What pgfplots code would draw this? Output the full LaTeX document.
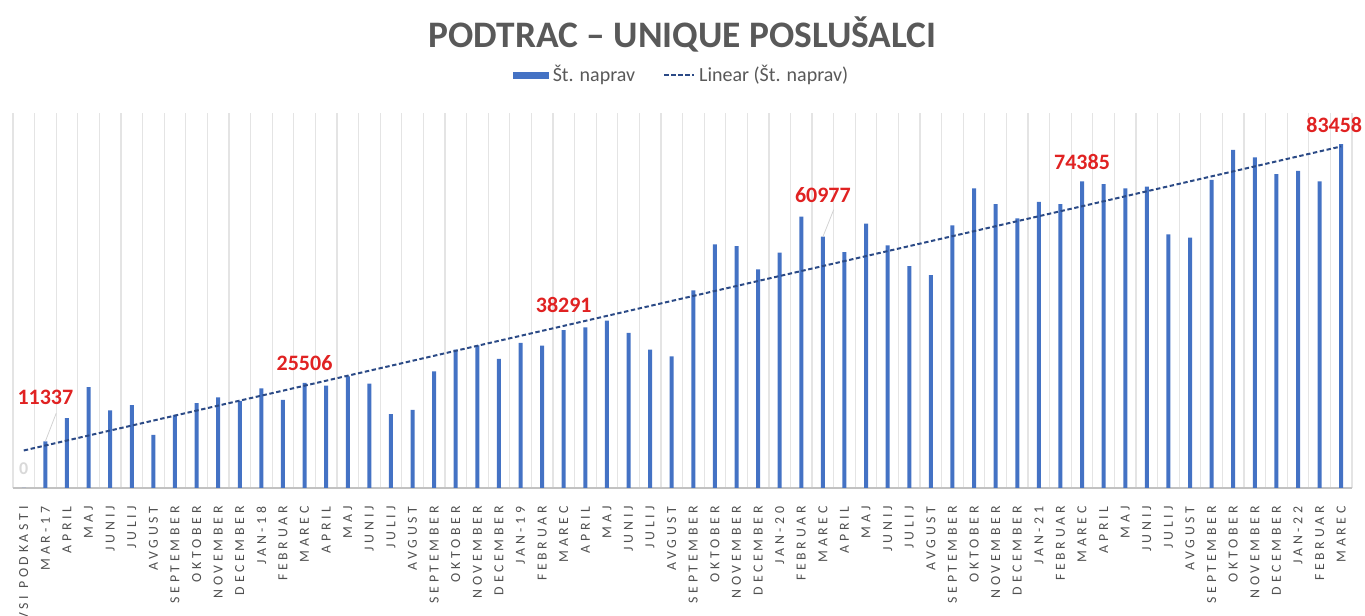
\documentclass[border=0pt]{standalone}
\usepackage{fontspec}
\setmainfont{Carlito}
\newfontfamily\spaced[LetterSpace=27]{Carlito}
\usepackage{pgfplots}
\pgfplotsset{compat=1.18}
\usepackage{pgfplotstable}

\definecolor{barblue}{HTML}{4472C4}
\definecolor{trendblue}{HTML}{2B4A86}
\definecolor{txtgray}{HTML}{595959}
\definecolor{gridgray}{HTML}{E4E4E4}
\definecolor{lblred}{HTML}{E02222}

\tikzset{trendline/.style={trendblue, line width=1bp, dash pattern=on 2.2bp off 1.3bp}}

% Podtrac unique listeners, monthly
\pgfplotstableread{
x  y
0  0
1  11337
2  16960
3  24500
4  18810
5  20120
6  12900
7  17760
8  20600
9  21970
10 21170
11 24160
12 21410
13 25506
14 24820
15 27080
16 25300
17 17930
18 18980
19 28300
20 33580
21 34630
22 31310
23 35200
24 34550
25 38291
26 39000
27 40640
28 37640
29 33580
30 31950
31 47930
32 59130
33 58720
34 53040
35 57110
36 65870
37 60977
38 57250
39 64160
40 58880
41 53850
42 51660
43 63750
44 72680
45 68860
46 65450
47 69420
48 68860
49 74385
50 73720
51 72680
52 73160
53 61560
54 60750
55 74770
56 82070
57 80220
58 76160
59 76960
60 74380
61 83458
}\podtrac

\begin{document}
\begin{tikzpicture}
\begin{axis}[
  name=ax,
  scale only axis,
  width=669.5bp, height=187.5bp,
  xmin=-0.5, xmax=61.5,
  ymin=0, ymax=91000,
  axis y line=none,
  axis x line*=bottom,
  axis line style={draw=gridgray!85!black, line width=0.6bp},
  clip=false,
  xtick={0,...,61},
  xticklabels={VSI PODKASTI, MAR-17, APRIL, MAJ, JUNIJ, JULIJ, AVGUST, SEPTEMBER, OKTOBER, NOVEMBER, DECEMBER,
    JAN-18, FEBRUAR, MAREC, APRIL, MAJ, JUNIJ, JULIJ, AVGUST, SEPTEMBER, OKTOBER, NOVEMBER, DECEMBER,
    JAN-19, FEBRUAR, MAREC, APRIL, MAJ, JUNIJ, JULIJ, AVGUST, SEPTEMBER, OKTOBER, NOVEMBER, DECEMBER,
    JAN-20, FEBRUAR, MAREC, APRIL, MAJ, JUNIJ, JULIJ, AVGUST, SEPTEMBER, OKTOBER, NOVEMBER, DECEMBER,
    JAN-21, FEBRUAR, MAREC, APRIL, MAJ, JUNIJ, JULIJ, AVGUST, SEPTEMBER, OKTOBER, NOVEMBER, DECEMBER,
    JAN-22, FEBRUAR, MAREC},
  xticklabel style={yshift=-9bp, rotate=90, anchor=east, inner sep=0pt,
    font=\spaced\fontsize{6.9bp}{8bp}\selectfont, text=txtgray!90!black},
  minor xtick={-0.5,0.5,...,61.5},
  xminorgrids=true,
  minor grid style={draw=gridgray, line width=0.6bp},
  major tick length=0pt, minor tick length=0pt,
  title={PODTRAC – UNIQUE POSLUŠALCI},
  title style={at={(axis description cs:0.5,1)}, anchor=center, yshift=33.5bp,
    font=\bfseries\fontsize{18.7bp}{22bp}\selectfont, text=txtgray},
  legend style={at={(axis description cs:0.5,1.101)}, anchor=center, draw=none,
    legend columns=2, font=\fontsize{10bp}{12bp}\selectfont, text=txtgray,
    /tikz/every even column/.append style={column sep=12bp}},
]
\addplot[ybar, bar width=2bp, fill=barblue, draw=none,
  legend image code/.code={\fill[barblue] (0bp,-1.75bp) rectangle (18bp,1.75bp);}]
  table[x=x, y=y] {\podtrac};
\addlegendentry{Št. naprav}
\addplot[trendline, no marks,
  legend image code/.code={\draw[trendline] (0bp,0bp) -- (15bp,0bp);}]
  table[x=x, y={create col/linear regression={y=y}}] {\podtrac};
\addlegendentry{Linear (Št. naprav)}

% data labels
\tikzset{lbl/.style={text=lblred, font=\bfseries\fontsize{11bp}{13bp}\selectfont, inner sep=0pt}}
\draw[gray!35, line width=0.4bp] (axis cs:1,11337) -- ++(0,14bp);
\draw[gray!35, line width=0.4bp] (axis cs:37,60977) -- ++(0,13.5bp);
\node[lbl, yshift=22bp] at (axis cs:1,11337) {11337};
\node[lbl, yshift=10bp] at (axis cs:13,25506) {25506};
\node[lbl, yshift=12.5bp] at (axis cs:25,38291) {38291};
\node[lbl, yshift=21bp] at (axis cs:37,60977) {60977};
\node[lbl, yshift=9.5bp] at (axis cs:49,74385) {74385};
\node[lbl, yshift=9.5bp, xshift=-3.5bp] at (axis cs:61,83458) {83458};
\node[text=gray!30, font=\bfseries\fontsize{9bp}{11bp}\selectfont, yshift=9.5bp] at (axis cs:0,0) {0};
\end{axis}
\pgfresetboundingbox
\path[use as bounding box] ([xshift=-6.5bp,yshift=-64bp]ax.south west) rectangle ([xshift=6.5bp,yshift=56.5bp]ax.north east);
\end{tikzpicture}
\end{document}
